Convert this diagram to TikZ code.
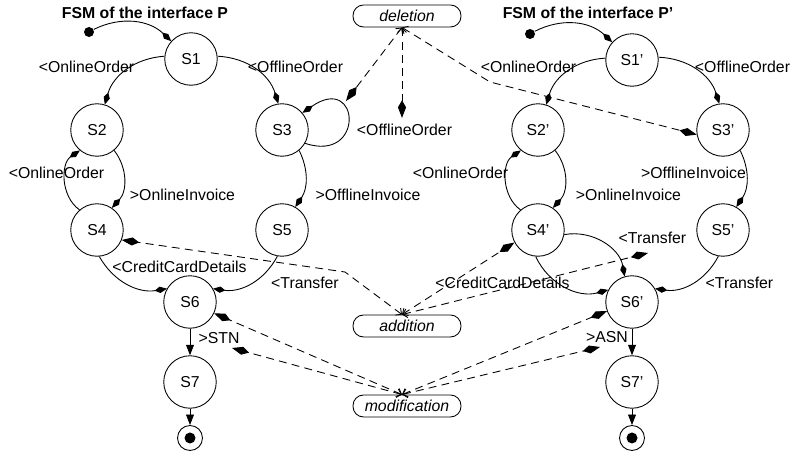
\documentclass[tikz,border=0pt]{standalone}
\usepackage{fontspec}
\setmainfont{Liberation Sans}
\usetikzlibrary{arrows.meta}

\begin{document}
\begin{tikzpicture}[x=0.02cm, y=0.02cm, line width=0.5pt, font=\fontsize{9}{11}\selectfont,
    state/.style={draw, circle, minimum size=1.05cm, inner sep=0pt},
    initdot/.style={fill, circle, minimum size=0.2cm, inner sep=0pt},
    finalstate/.style={draw, circle, minimum size=0.5cm, inner sep=0pt},
    change/.style={draw, rounded corners=0.21cm, minimum width=2.16cm, minimum height=0.44cm, inner sep=0pt, font=\fontsize{9}{11}\selectfont\itshape},
    title/.style={font=\fontsize{9}{11}\selectfont\bfseries},
    trans/.style={-{Kite[length=7pt, width=3.6pt, inset=3pt]}},
    flow/.style={-{Triangle[length=6pt, width=4.5pt]}},
    dep/.style={dash pattern=on 4.5pt off 3pt, {Straight Barb[length=2.5pt, width=5pt]}-{Kite[length=10pt, width=4.6pt, inset=4pt]}}]
    \useasboundingbox (0,0) rectangle (792,453);

    % interface P
    \node[title] (titleP) at (145,440) {FSM of the interface P};
    \node[initdot] (i) at (89,421) {};
    \node[state] (s1) at (191,394) {S1};
    \node[state] (s2) at (97,323) {S2};
    \node[state] (s3) at (282,323) {S3};
    \node[state] (s4) at (97,223) {S4};
    \node[state] (s5) at (282,223) {S5};
    \node[state] (s6) at (190,151) {S6};
    \node[state] (s7) at (190,71) {S7};
    \node[finalstate] (f) at (190,15) {};
    \fill (f.center) circle (0.11cm);

    \node (onl1) at (86.5,386) {<OnlineOrder};
    \node (off1) at (295.5,386) {<OfflineOrder};
    \node (offloop) at (404.5,323) {<OfflineOrder};
    \node (onl2) at (56.5,280) {<OnlineOrder};
    \node (oninv) at (182.5,258) {>OnlineInvoice};
    \node (offinv) at (368,258) {>OfflineInvoice};
    \node (ccd) at (179.5,186) {<CreditCardDetails};
    \node (tr) at (305,170) {<Transfer};
    \node (stn) at (219,115) {>STN};

    \draw[trans] (i) to[bend left=35] (s1.138);
    \draw[trans] (s1.174) to[bend right=35] (s2.73);
    \draw[trans] (s1.6) to[bend left=35] (s3.98);
    \draw[trans] (s3.-30) .. controls +(60,-20) and +(58,40) .. (s3.40);
    \draw[trans] (s2.-50) to[bend left=40] (s4.56);
    \draw[trans] (s4.131) to[bend left=55] (s2.230);
    \draw[trans] (s3.-50) to[bend left=30] (s5.60);
    \draw[trans] (s4.-85) to[bend right=35] (s6.150);
    \draw[trans] (s5.-100) to[bend left=35] (s6.30);
    \draw[flow] (s6) -- (s7);
    \draw[flow] (s7) -- (f);

    % interface P'
    \node[title] (titlePp) at (588,440) {FSM of the interface P'};
    \node[initdot] (ip) at (530,419) {};
    \node[state] (s1p) at (632,393) {S1'};
    \node[state] (s2p) at (538,323) {S2'};
    \node[state] (s3p) at (723,323) {S3'};
    \node[state] (s4p) at (538,223) {S4'};
    \node[state] (s5p) at (723,223) {S5'};
    \node[state] (s6p) at (632,151) {S6'};
    \node[state] (s7p) at (632,71) {S7'};
    \node[finalstate] (fp) at (632,15) {};
    \fill (fp.center) circle (0.11cm);

    \node (onl1p) at (528.5,386) {<OnlineOrder};
    \node (off1p) at (742.5,386) {<OfflineOrder};
    \node (onl2p) at (460.5,280) {<OnlineOrder};
    \node (oninvp) at (628.5,258) {>OnlineInvoice};
    \node (offinvp) at (693.5,280) {>OfflineInvoice};
    \node (trup) at (652.5,215) {<Transfer};
    \node (ccdp) at (502.5,170) {<CreditCardDetails};
    \node (trp) at (739.5,170) {<Transfer};
    \node (asn) at (607,116) {>ASN};

    \draw[trans] (ip) to[bend left=35] (s1p.138);
    \draw[trans] (s1p.176) to[bend right=35] (s2p.72);
    \draw[trans] (s1p.6) to[bend left=35] (s3p.98);
    \draw[trans] (s2p.-50) to[bend left=40] (s4p.56);
    \draw[trans] (s4p.131) to[bend left=55] (s2p.230);
    \draw[trans] (s3p.-50) to[bend left=30] (s5p.60);
    \draw[trans] (s4p.-10) to[bend left=45] (s6p.106);
    \draw[trans] (s4p.-95) to[bend right=40] (s6p.153);
    \draw[trans] (s5p.-100) to[bend left=35] (s6p.30);
    \draw[flow] (s6p) -- (s7p);
    \draw[flow] (s7p) -- (fp);

    % changes
    \node[change] (deletion) at (407,437) {deletion};
    \node[change] (addition) at (407,127) {addition};
    \node[change] (modification) at (407,47) {modification};

    \coordinate (delsrc) at ([xshift=-0.1cm]deletion.south);
    \coordinate (addsrc) at ([xshift=-0.1cm]addition.north);
    \coordinate (modsrc) at ([xshift=-0.1cm]modification.north);
    \coordinate (loopmark) at (346,352);
    \coordinate (delbend) at (490,371);
    \coordinate (addbend) at (345,181);
    \coordinate (trmark) at (648,200);
    \coordinate (stnmark) at (232,105);
    \coordinate (asnmark) at (600,106);

    \draw[dep] (delsrc) -- (loopmark);
    \draw[dep] (delsrc) -- (delsrc |- offloop.north);
    \draw[dep] (delsrc) -- (delbend) -- (s3p.190);

    \draw[dep] (addsrc) -- (addbend) -- (s4.-22);
    \draw[dep] (addsrc) -- (s4p.208);
    \draw[dep] (addsrc) -- (trmark);

    \draw[dep] (modsrc) -- (s6.-25);
    \draw[dep] (modsrc) -- (stnmark);
    \draw[dep] (modsrc) -- (s6p.200);
    \draw[dep] (modsrc) -- (asnmark);
\end{tikzpicture}
\end{document}
